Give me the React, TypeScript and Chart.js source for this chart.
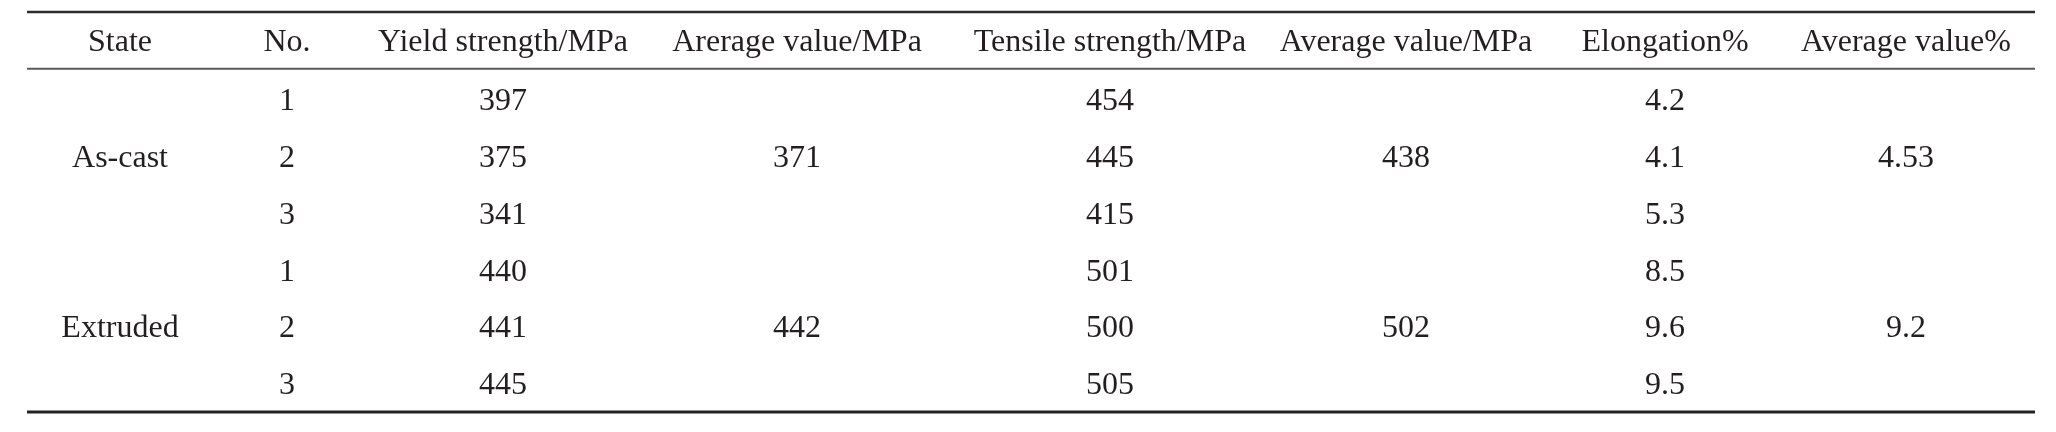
import React, { useEffect, useRef } from "react";
import { Chart, registerables } from "chart.js";

Chart.register(...registerables);

// ---- data ----
const headers = [
  "State",
  "No.",
  "Yield strength/MPa",
  "Arerage value/MPa",
  "Tensile strength/MPa",
  "Average value/MPa",
  "Elongation%",
  "Average value%",
];
const states = ["As-cast", "Extruded"];
const sampleNos = ["1", "2", "3"];
const yieldStrength = [397, 375, 341, 440, 441, 445];
const yieldAvg = [371, 442];
const tensileStrength = [454, 445, 415, 501, 500, 505];
const tensileAvg = [438, 502];
const elongation = [4.2, 4.1, 5.3, 8.5, 9.6, 9.5];
const elongationAvg = [4.53, 9.2];

// ---- layout (table units) ----
const COL_WIDTHS = [186, 148, 284, 304, 322, 270, 248, 234];
const TRAIL = 12;
const HEADER_ROW = -0.05;
const FONT = '32px "Liberation Serif", "Times New Roman", serif';
const TEXT_COLOR = "#231f20";

function colCenter(i: number): number {
  let s = 0;
  for (let k = 0; k < i; k++) s += COL_WIDTHS[k];
  return s + COL_WIDTHS[i] / 2;
}
const TABLE_WIDTH = COL_WIDTHS.reduce((a, b) => a + b, 0) + TRAIL;

type Cell = { x: number; y: number; text: string };

function buildColumns(): Cell[][] {
  const cols: Cell[][] = headers.map(() => []);
  headers.forEach((h, c) => cols[c].push({ x: colCenter(c), y: HEADER_ROW, text: h }));
  const perGroup = sampleNos.length;
  states.forEach((st, g) => {
    const mid = g * perGroup + Math.floor(perGroup / 2) + 1;
    cols[0].push({ x: colCenter(0), y: mid, text: st });
    cols[3].push({ x: colCenter(3), y: mid, text: String(yieldAvg[g]) });
    cols[5].push({ x: colCenter(5), y: mid, text: String(tensileAvg[g]) });
    cols[7].push({ x: colCenter(7), y: mid, text: String(elongationAvg[g]) });
    sampleNos.forEach((n, i) => {
      const idx = g * perGroup + i;
      const row = idx + 1;
      cols[1].push({ x: colCenter(1), y: row, text: n });
      cols[2].push({ x: colCenter(2), y: row, text: String(yieldStrength[idx]) });
      cols[4].push({ x: colCenter(4), y: row, text: String(tensileStrength[idx]) });
      cols[6].push({ x: colCenter(6), y: row, text: String(elongation[idx]) });
    });
  });
  return cols;
}

const tablePlugin = {
  id: "tableDraw",
  afterDatasetsDraw(chart: any) {
    const ctx = chart.ctx as CanvasRenderingContext2D;
    const xs = chart.scales.x;
    const ys = chart.scales.y;
    const left = xs.getPixelForValue(0);
    const right = xs.getPixelForValue(TABLE_WIDTH);
    ctx.save();
    const rule = (v: number, w: number, color: string) => {
      const y = ys.getPixelForValue(v);
      ctx.beginPath();
      ctx.strokeStyle = color;
      ctx.lineWidth = w;
      ctx.moveTo(left, y);
      ctx.lineTo(right, y);
      ctx.stroke();
    };
    rule(-0.55, 2.6, "#2e2e2e");
    rule(0.45, 2, "#5a5a5a");
    rule(6.5, 3, "#222222");
    ctx.font = FONT;
    ctx.fillStyle = TEXT_COLOR;
    ctx.textAlign = "center";
    ctx.textBaseline = "alphabetic";
    chart.data.datasets.forEach((ds: any, di: number) => {
      const meta = chart.getDatasetMeta(di);
      meta.data.forEach((pt: any, i: number) => {
        const cell = ds.data[i] as Cell;
        ctx.fillText(cell.text, pt.x, pt.y + 10.5);
      });
    });
    ctx.restore();
  },
};

export default function App() {
  const ref = useRef<HTMLCanvasElement | null>(null);
  useEffect(() => {
    document.body.style.margin = "0";
    document.body.style.background = "#ffffff";
    const canvas = ref.current;
    if (!canvas) return;
    const cols = buildColumns();
    const chart = new Chart(canvas, {
      type: "scatter",
      data: {
        datasets: cols.map((c, i) => ({
          label: headers[i],
          data: c as any,
          pointRadius: 0,
          pointHoverRadius: 0,
          showLine: false,
        })),
      },
      options: {
        animation: false,
        responsive: false,
        devicePixelRatio: 1,
        events: [],
        layout: { padding: { left: 27, right: 21, top: 12, bottom: 20 } },
        plugins: {
          legend: { display: false },
          tooltip: { enabled: false },
          title: { display: false },
        },
        scales: {
          x: { type: "linear", display: false, min: 0, max: TABLE_WIDTH },
          y: { type: "linear", display: false, min: -0.55, max: 6.5, reverse: true },
        },
      },
      plugins: [tablePlugin],
    });
    return () => chart.destroy();
  }, []);
  return (
    <div style={{ width: 2056, height: 432, background: "#fff" }}>
      <canvas ref={ref} width={2056} height={432} style={{ display: "block" }} />
    </div>
  );
}
